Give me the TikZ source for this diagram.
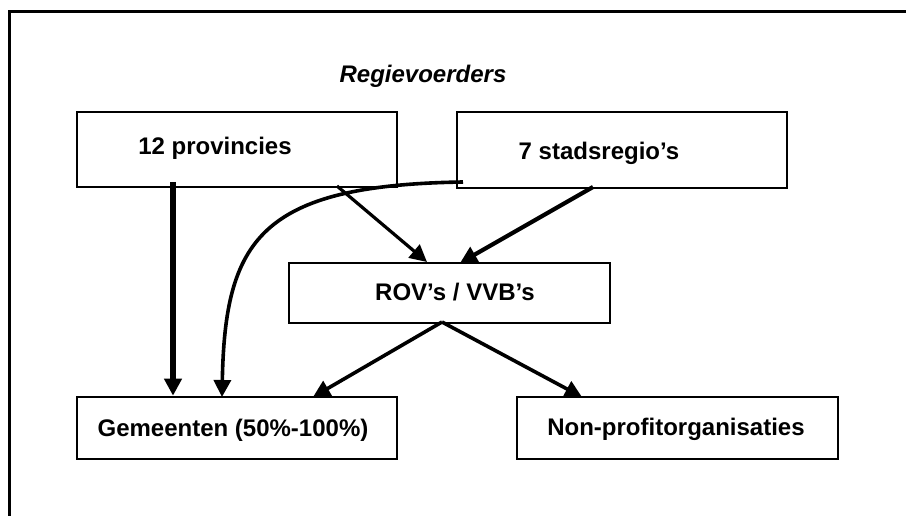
\documentclass[tikz,border=0pt]{standalone}
\usepackage{fontspec}
\setmainfont{Liberation Sans}
\usetikzlibrary{arrows.meta,calc}
\tikzset{
  box/.style={draw, line width=2.6pt, rectangle, inner sep=0pt},
  lbl/.style={anchor=base, inner sep=0pt, font=\fontsize{24}{29}\selectfont\bfseries},
  arr/.style={-{Triangle[length=17pt,width=17pt]}, line width=#1},
  arr/.default=3.5pt
}
\begin{document}
\begin{tikzpicture}[x=1pt,y=-1pt]
\useasboundingbox (0,0) rectangle (906,516);
% outer frame (partial)
\draw[line width=3pt] (9,516) -- (9,12) -- (906,12);
% title
\node[lbl, font=\fontsize{24}{29}\selectfont\bfseries\itshape] (title) at (423,83) {Regievoerders};
% boxes
\node[box, minimum width=320pt, minimum height=75pt] (prov) at (237,149.5) {};
\node[box, minimum width=330pt, minimum height=76pt] (stad) at (622,150) {};
\node[box, minimum width=321pt, minimum height=60pt] (rov) at (449.5,293) {};
\node[box, minimum width=320pt, minimum height=62pt] (gem) at (237,428) {};
\node[box, minimum width=321pt, minimum height=62pt] (npo) at (677.5,428) {};
% texts
\node[lbl] (tprov) at (215,155) {12 provincies};
\node[lbl] (tstad) at (599,160) {7 stadsregio’s};
\node[lbl] (trov) at (455,300) {ROV’s / VVB’s};
\node[lbl] (tgem) at (233,436) {Gemeenten (50\%-100\%)};
\node[lbl] (tnpo) at (676,435) {Non-profitorganisaties};
% connector start points
\coordinate (s1) at (173,182);
\coordinate (s2) at (463,182);
\coordinate (s3) at (337,186);
\coordinate (s4) at (593,187);
\coordinate (s5) at (442,322);
% connectors
\draw[arr=5.2pt] (s1) -- (s1 |- gem.north);
\draw[arr=3.6pt] (s2) .. controls (260,185) and (225,240) .. (222,397);
\draw[arr=3.2pt] (s3) -- (427,262);
\draw[arr=4.2pt] (s4) -- (460,263);
\draw[arr=3.6pt] (s5) -- (313,397);
\draw[arr=3.6pt] (s5) -- (582,397);
\end{tikzpicture}
\end{document}
